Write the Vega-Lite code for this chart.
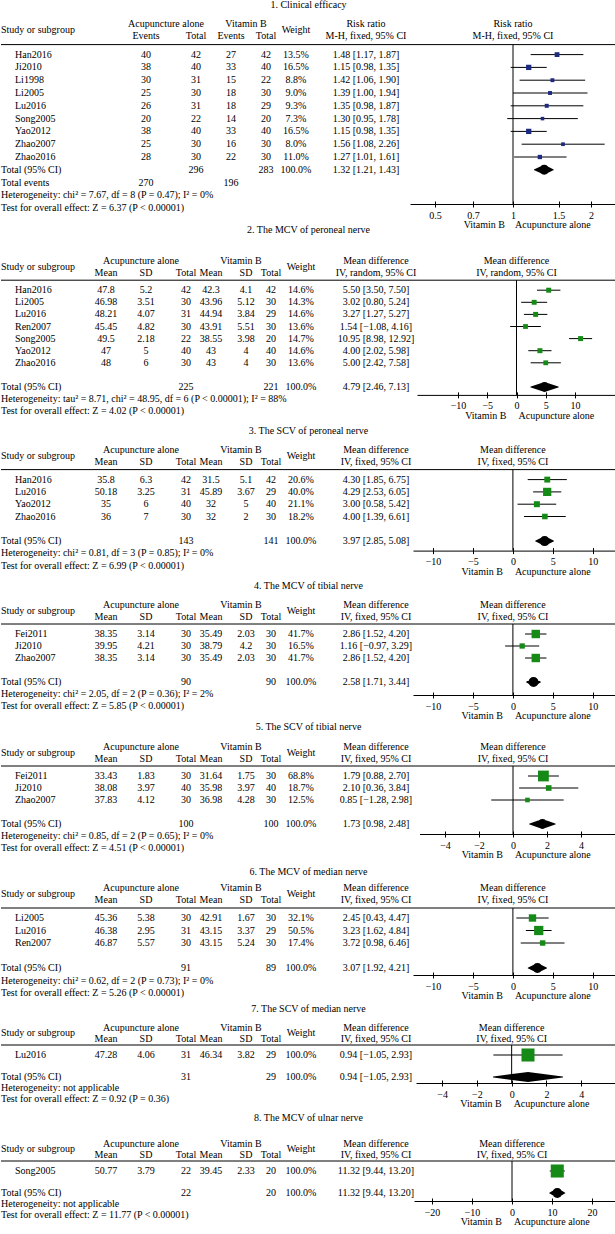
{
"$schema": "https://vega.github.io/schema/vega-lite/v6.json",
"padding": 0,
"bounds": "flush",
"spacing": 40,
"config": {
 "font": "Liberation Serif",
 "view": {"stroke": null},
 "text": {"fontSize": 10, "baseline": "middle", "color": "black"},
 "title": {"fontSize": 10, "fontWeight": "normal", "color": "black"},
 "rule": {"color": "black", "strokeWidth": 1},
 "axis": {"domainColor": "black", "tickColor": "black", "labelColor": "black", "labelFontSize": 10, "tickSize": 3, "labelPadding": 3, "grid": false, "domainWidth": 1, "tickWidth": 1}
},
"datasets": {
 "hRR": [
  {"r":"H1","c":"acu","t":"Acupuncture alone"},{"r":"H1","c":"vit","t":"Vitamin B"},{"r":"H1","c":"ci","t":"Risk ratio"},{"r":"H1","c":"f","t":"Risk ratio"},
  {"r":"H2","c":"e1","t":"Events"},{"r":"H2","c":"t1","t":"Total"},{"r":"H2","c":"e2","t":"Events"},{"r":"H2","c":"t2","t":"Total"},{"r":"H2","c":"ci","t":"M-H, fixed, 95% CI"},{"r":"H2","c":"f","t":"M-H, fixed, 95% CI"}],
 "hMDr": [
  {"r":"H1","c":"acu","t":"Acupuncture alone"},{"r":"H1","c":"vit","t":"Vitamin B"},{"r":"H1","c":"ci","t":"Mean difference"},{"r":"H1","c":"f","t":"Mean difference"},
  {"r":"H2","c":"m1","t":"Mean"},{"r":"H2","c":"sd1","t":"SD"},{"r":"H2","c":"n1","t":"Total"},{"r":"H2","c":"m2","t":"Mean"},{"r":"H2","c":"sd2","t":"SD"},{"r":"H2","c":"n2","t":"Total"},{"r":"H2","c":"ci","t":"IV, random, 95% CI"},{"r":"H2","c":"f","t":"IV, random, 95% CI"}],
 "hMDf": [
  {"r":"H1","c":"acu","t":"Acupuncture alone"},{"r":"H1","c":"vit","t":"Vitamin B"},{"r":"H1","c":"ci","t":"Mean difference"},{"r":"H1","c":"f","t":"Mean difference"},
  {"r":"H2","c":"m1","t":"Mean"},{"r":"H2","c":"sd1","t":"SD"},{"r":"H2","c":"n1","t":"Total"},{"r":"H2","c":"m2","t":"Mean"},{"r":"H2","c":"sd2","t":"SD"},{"r":"H2","c":"n2","t":"Total"},{"r":"H2","c":"ci","t":"IV, fixed, 95% CI"},{"r":"H2","c":"f","t":"IV, fixed, 95% CI"}],
 "p1": [
  {"r":"Han2016","e1":"40","t1":"42","e2":"27","t2":"42","w":"13.5%","ci":"1.48 [1.17, 1.87]","wt":13.5,"est":1.48,"lo":1.17,"hi":1.87},
  {"r":"Ji2010","e1":"38","t1":"40","e2":"33","t2":"40","w":"16.5%","ci":"1.15 [0.98, 1.35]","wt":16.5,"est":1.15,"lo":0.98,"hi":1.35},
  {"r":"Li1998","e1":"30","t1":"31","e2":"15","t2":"22","w":"8.8%","ci":"1.42 [1.06, 1.90]","wt":8.8,"est":1.42,"lo":1.06,"hi":1.9},
  {"r":"Li2005","e1":"25","t1":"30","e2":"18","t2":"30","w":"9.0%","ci":"1.39 [1.00, 1.94]","wt":9.0,"est":1.39,"lo":1.0,"hi":1.94},
  {"r":"Lu2016","e1":"26","t1":"31","e2":"18","t2":"29","w":"9.3%","ci":"1.35 [0.98, 1.87]","wt":9.3,"est":1.35,"lo":0.98,"hi":1.87},
  {"r":"Song2005","e1":"20","t1":"22","e2":"14","t2":"20","w":"7.3%","ci":"1.30 [0.95, 1.78]","wt":7.3,"est":1.3,"lo":0.95,"hi":1.78},
  {"r":"Yao2012","e1":"38","t1":"40","e2":"33","t2":"40","w":"16.5%","ci":"1.15 [0.98, 1.35]","wt":16.5,"est":1.15,"lo":0.98,"hi":1.35},
  {"r":"Zhao2007","e1":"25","t1":"30","e2":"16","t2":"30","w":"8.0%","ci":"1.56 [1.08, 2.26]","wt":8.0,"est":1.56,"lo":1.08,"hi":2.26},
  {"r":"Zhao2016","e1":"28","t1":"30","e2":"22","t2":"30","w":"11.0%","ci":"1.27 [1.01, 1.61]","wt":11.0,"est":1.27,"lo":1.01,"hi":1.61},
  {"r":"Total","nm":"Total (95% CI)","t1":"296","t2":"283","w":"100.0%","ci":"1.32 [1.21, 1.43]","est":1.32,"lo":1.21,"hi":1.43},
  {"r":"Events","nm":"Total events","e1":"270","e2":"196"},
  {"r":"Het","nm":"Heterogeneity: chi² = 7.67, df = 8 (P = 0.47); I² = 0%"},
  {"r":"Test","nm":"Test for overall effect: Z = 6.37 (P < 0.00001)"}],
 "p2": [
  {"r":"Han2016","m1":"47.8","sd1":"5.2","n1":"42","m2":"42.3","sd2":"4.1","n2":"42","w":"14.6%","ci":"5.50 [3.50, 7.50]","wt":14.6,"est":5.5,"lo":3.5,"hi":7.5},
  {"r":"Li2005","m1":"46.98","sd1":"3.51","n1":"30","m2":"43.96","sd2":"5.12","n2":"30","w":"14.3%","ci":"3.02 [0.80, 5.24]","wt":14.3,"est":3.02,"lo":0.8,"hi":5.24},
  {"r":"Lu2016","m1":"48.21","sd1":"4.07","n1":"31","m2":"44.94","sd2":"3.84","n2":"29","w":"14.6%","ci":"3.27 [1.27, 5.27]","wt":14.6,"est":3.27,"lo":1.27,"hi":5.27},
  {"r":"Ren2007","m1":"45.45","sd1":"4.82","n1":"30","m2":"43.91","sd2":"5.51","n2":"30","w":"13.6%","ci":"1.54 [−1.08, 4.16]","wt":13.6,"est":1.54,"lo":-1.08,"hi":4.16},
  {"r":"Song2005","m1":"49.5","sd1":"2.18","n1":"22","m2":"38.55","sd2":"3.98","n2":"20","w":"14.7%","ci":"10.95 [8.98, 12.92]","wt":14.7,"est":10.95,"lo":8.98,"hi":12.92},
  {"r":"Yao2012","m1":"47","sd1":"5","n1":"40","m2":"43","sd2":"4","n2":"40","w":"14.6%","ci":"4.00 [2.02, 5.98]","wt":14.6,"est":4.0,"lo":2.02,"hi":5.98},
  {"r":"Zhao2016","m1":"48","sd1":"6","n1":"30","m2":"43","sd2":"4","n2":"30","w":"13.6%","ci":"5.00 [2.42, 7.58]","wt":13.6,"est":5.0,"lo":2.42,"hi":7.58},
  {"r":"Total","nm":"Total (95% CI)","n1":"225","n2":"221","w":"100.0%","ci":"4.79 [2.46, 7.13]","est":4.79,"lo":2.46,"hi":7.13},
  {"r":"Het","nm":"Heterogeneity: tau² = 8.71, chi² = 48.95, df = 6 (P < 0.00001); I² = 88%"},
  {"r":"Test","nm":"Test for overall effect: Z = 4.02 (P < 0.00001)"}],
 "p3": [
  {"r":"Han2016","m1":"35.8","sd1":"6.3","n1":"42","m2":"31.5","sd2":"5.1","n2":"42","w":"20.6%","ci":"4.30 [1.85, 6.75]","wt":20.6,"est":4.3,"lo":1.85,"hi":6.75},
  {"r":"Lu2016","m1":"50.18","sd1":"3.25","n1":"31","m2":"45.89","sd2":"3.67","n2":"29","w":"40.0%","ci":"4.29 [2.53, 6.05]","wt":40.0,"est":4.29,"lo":2.53,"hi":6.05},
  {"r":"Yao2012","m1":"35","sd1":"6","n1":"40","m2":"32","sd2":"5","n2":"40","w":"21.1%","ci":"3.00 [0.58, 5.42]","wt":21.1,"est":3.0,"lo":0.58,"hi":5.42},
  {"r":"Zhao2016","m1":"36","sd1":"7","n1":"30","m2":"32","sd2":"2","n2":"30","w":"18.2%","ci":"4.00 [1.39, 6.61]","wt":18.2,"est":4.0,"lo":1.39,"hi":6.61},
  {"r":"Total","nm":"Total (95% CI)","n1":"143","n2":"141","w":"100.0%","ci":"3.97 [2.85, 5.08]","est":3.97,"lo":2.85,"hi":5.08},
  {"r":"Het","nm":"Heterogeneity: chi² = 0.81, df = 3 (P = 0.85); I² = 0%"},
  {"r":"Test","nm":"Test for overall effect: Z = 6.99 (P < 0.00001)"}],
 "p4": [
  {"r":"Fei2011","m1":"38.35","sd1":"3.14","n1":"30","m2":"35.49","sd2":"2.03","n2":"30","w":"41.7%","ci":"2.86 [1.52, 4.20]","wt":41.7,"est":2.86,"lo":1.52,"hi":4.2},
  {"r":"Ji2010","m1":"39.95","sd1":"4.21","n1":"30","m2":"38.79","sd2":"4.2","n2":"30","w":"16.5%","ci":"1.16 [−0.97, 3.29]","wt":16.5,"est":1.16,"lo":-0.97,"hi":3.29},
  {"r":"Zhao2007","m1":"38.35","sd1":"3.14","n1":"30","m2":"35.49","sd2":"2.03","n2":"30","w":"41.7%","ci":"2.86 [1.52, 4.20]","wt":41.7,"est":2.86,"lo":1.52,"hi":4.2},
  {"r":"Total","nm":"Total (95% CI)","n1":"90","n2":"90","w":"100.0%","ci":"2.58 [1.71, 3.44]","est":2.58,"lo":1.71,"hi":3.44},
  {"r":"Het","nm":"Heterogeneity: chi² = 2.05, df = 2 (P = 0.36); I² = 2%"},
  {"r":"Test","nm":"Test for overall effect: Z = 5.85 (P < 0.00001)"}],
 "p5": [
  {"r":"Fei2011","m1":"33.43","sd1":"1.83","n1":"30","m2":"31.64","sd2":"1.75","n2":"30","w":"68.8%","ci":"1.79 [0.88, 2.70]","wt":68.8,"est":1.79,"lo":0.88,"hi":2.7},
  {"r":"Ji2010","m1":"38.08","sd1":"3.97","n1":"40","m2":"35.98","sd2":"3.97","n2":"40","w":"18.7%","ci":"2.10 [0.36, 3.84]","wt":18.7,"est":2.1,"lo":0.36,"hi":3.84},
  {"r":"Zhao2007","m1":"37.83","sd1":"4.12","n1":"30","m2":"36.98","sd2":"4.28","n2":"30","w":"12.5%","ci":"0.85 [−1.28, 2.98]","wt":12.5,"est":0.85,"lo":-1.28,"hi":2.98},
  {"r":"Total","nm":"Total (95% CI)","n1":"100","n2":"100","w":"100.0%","ci":"1.73 [0.98, 2.48]","est":1.73,"lo":0.98,"hi":2.48},
  {"r":"Het","nm":"Heterogeneity: chi² = 0.85, df = 2 (P = 0.65); I² = 0%"},
  {"r":"Test","nm":"Test for overall effect: Z = 4.51 (P < 0.00001)"}],
 "p6": [
  {"r":"Li2005","m1":"45.36","sd1":"5.38","n1":"30","m2":"42.91","sd2":"1.67","n2":"30","w":"32.1%","ci":"2.45 [0.43, 4.47]","wt":32.1,"est":2.45,"lo":0.43,"hi":4.47},
  {"r":"Lu2016","m1":"46.38","sd1":"2.95","n1":"31","m2":"43.15","sd2":"3.37","n2":"29","w":"50.5%","ci":"3.23 [1.62, 4.84]","wt":50.5,"est":3.23,"lo":1.62,"hi":4.84},
  {"r":"Ren2007","m1":"46.87","sd1":"5.57","n1":"30","m2":"43.15","sd2":"5.24","n2":"30","w":"17.4%","ci":"3.72 [0.98, 6.46]","wt":17.4,"est":3.72,"lo":0.98,"hi":6.46},
  {"r":"Total","nm":"Total (95% CI)","n1":"91","n2":"89","w":"100.0%","ci":"3.07 [1.92, 4.21]","est":3.07,"lo":1.92,"hi":4.21},
  {"r":"Het","nm":"Heterogeneity: chi² = 0.62, df = 2 (P = 0.73); I² = 0%"},
  {"r":"Test","nm":"Test for overall effect: Z = 5.26 (P < 0.00001)"}],
 "p7": [
  {"r":"Lu2016","m1":"47.28","sd1":"4.06","n1":"31","m2":"46.34","sd2":"3.82","n2":"29","w":"100.0%","ci":"0.94 [−1.05, 2.93]","wt":100.0,"est":0.94,"lo":-1.05,"hi":2.93},
  {"r":"Total","nm":"Total (95% CI)","n1":"31","n2":"29","w":"100.0%","ci":"0.94 [−1.05, 2.93]","est":0.94,"lo":-1.05,"hi":2.93},
  {"r":"Het","nm":"Heterogeneity: not applicable"},
  {"r":"Test","nm":"Test for overall effect: Z = 0.92 (P = 0.36)"}],
 "p8": [
  {"r":"Song2005","m1":"50.77","sd1":"3.79","n1":"22","m2":"39.45","sd2":"2.33","n2":"20","w":"100.0%","ci":"11.32 [9.44, 13.20]","wt":100.0,"est":11.32,"lo":9.44,"hi":13.2},
  {"r":"Total","nm":"Total (95% CI)","n1":"22","n2":"20","w":"100.0%","ci":"11.32 [9.44, 13.20]","est":11.32,"lo":9.44,"hi":13.2},
  {"r":"Het","nm":"Heterogeneity: not applicable"},
  {"r":"Test","nm":"Test for overall effect: Z = 11.77 (P < 0.00001)"}]
},
"resolve": {"scale": {"x": "independent", "y": "independent", "size": "independent"}},
"vconcat": [
 {
  "title": {"text": "1. Clinical efficacy", "offset": -1.5, "anchor": "middle", "frame": "group", "baseline": "bottom"},
  "width": 615, "height": 196.1,
  "data": {"name": "p1"},
  "encoding": {"y": {"field": "r", "type": "nominal", "axis": null, "scale": {"type": "point", "padding": 0, "range": [0, 179.2], "domain": ["H1","H2","Han2016","Ji2010","Li1998","Li2005","Lu2016","Song2005","Yao2012","Zhao2007","Zhao2016","Total","Events","Het","Test"]}}},
  "resolve": {"scale": {"x": "independent"}, "axis": {"x": "independent"}},
  "layer": [
   {"layer": [
    {"data": {"name": "hRR"}, "transform": [{"filter": "datum.c != 'f'"}], "mark": {"type": "text", "dy": -5.5}, "encoding": {"x": {"field": "c", "type": "nominal", "axis": null}, "text": {"field": "t"}}},
    {"data": {"values": [{}]}, "mark": {"type": "text", "text": "Study or subgroup", "align": "left", "dy": -11.5}, "encoding": {"x": {"datum": "nm", "type": "nominal", "axis": null}, "y": {"datum": "H2", "type": "nominal", "axis": null}}},
    {"data": {"values": [{}]}, "mark": {"type": "text", "text": "Weight", "dy": -11.5}, "encoding": {"x": {"datum": "w", "type": "nominal", "axis": null}, "y": {"datum": "H2", "type": "nominal", "axis": null}}},
    {"transform": [{"filter": "isValid(datum.wt)"}], "mark": {"type": "text", "align": "left", "dx": 14}, "encoding": {"x": {"datum": "nm", "type": "nominal", "axis": null}, "text": {"field": "r"}}},
    {"transform": [{"filter": "isValid(datum.nm)"}], "mark": {"type": "text", "align": "left"}, "encoding": {"x": {"datum": "nm", "type": "nominal", "axis": null}, "text": {"field": "nm"}}},
    {"transform": [{"fold": ["e1","t1","e2","t2","w","ci"], "as": ["k","v"]}, {"filter": "isValid(datum.v)"}], "mark": {"type": "text"}, "encoding": {"x": {"field": "k", "type": "nominal", "axis": null, "scale": {"type": "point", "padding": 0, "range": [0, 365], "domain": ["nm","f1","f2","f3","f4","f5","f6","f7","f8","f9","f10","f11","f12","f13","f14","f15","f16","f17","f18","f19","f20","f21","f22","f23","f24","f25","f26","f27","f28","e1","f30","f31","f32","acu","f34","f35","f36","f37","f38","t1","f40","f41","f42","f43","f44","f45","e2","f47","f48","vit","f50","f51","f52","t2","f54","f55","f56","f57","f58","w","f60","f61","f62","f63","f64","f65","f66","f67","f68","f69","f70","f71","f72","ci"]}}, "text": {"field": "v"}}},
    {"data": {"values": [{}]}, "mark": {"type": "rule", "yOffset": 2.8}, "encoding": {"y": {"datum": "H2", "type": "nominal", "axis": null}}}
   ]},
   {"resolve": {"axis": {"x": "independent"}}, "layer": [
    {"data": {"values": [{}]}, "mark": {"type": "rule", "yOffset": 2.8, "y2Offset": -4.2}, "encoding": {"x": {"datum": 1, "type": "quantitative", "axis": null}, "y": {"datum": "H2", "type": "nominal", "axis": null}, "y2": {"datum": "Test"}}},
    {"transform": [{"filter": "isValid(datum.wt)"}], "mark": {"type": "rule"}, "encoding": {"x": {"field": "lo", "type": "quantitative", "scale": {"type": "log", "domain": [0.4, 2.5], "range": [409, 615], "nice": false}, "axis": {"orient": "bottom", "values": [0.5, 0.7, 1, 1.5, 2], "format": "~g", "title": null, "offset": -21.1}}, "x2": {"field": "hi"}}},
    {"transform": [{"filter": "isValid(datum.wt)"}], "mark": {"type": "square", "filled": true, "opacity": 1, "color": "#1c2a80"}, "encoding": {"x": {"field": "est", "type": "quantitative", "axis": {"orient": "bottom", "values": [0.5, 0.7, 1, 1.5, 2], "labels": false, "domain": false, "tickSize": -3, "title": null, "offset": -21.1}}, "size": {"field": "wt", "type": "quantitative", "legend": null, "scale": {"type": "linear", "domain": [0, 100], "range": [0, 170]}}}},
    {"transform": [{"filter": "datum.r == 'Total'"}, {"fold": ["lo","est","hi"], "as": ["dk","dv"]}], "mark": {"type": "trail", "color": "black"}, "encoding": {"x": {"field": "dv", "type": "quantitative", "axis": null}, "size": {"condition": {"test": "datum.dk == 'est'", "value": 10}, "value": 0}}},
    {"data": {"name": "hRR"}, "transform": [{"filter": "datum.c == 'f'"}], "mark": {"type": "text", "dy": -5.5}, "encoding": {"x": {"datum": 1, "type": "quantitative", "axis": null}, "text": {"field": "t"}}},
    {"data": {"values": [{}]}, "mark": {"type": "text", "text": "Vitamin B", "align": "right", "dx": -8, "dy": 16.8}, "encoding": {"x": {"datum": 1, "type": "quantitative", "axis": null}, "y": {"datum": "Test", "type": "nominal", "axis": null}}},
    {"data": {"values": [{}]}, "mark": {"type": "text", "text": "Acupuncture alone", "align": "left", "dx": 2, "dy": 16.8}, "encoding": {"x": {"datum": 1, "type": "quantitative", "axis": null}, "y": {"datum": "Test", "type": "nominal", "axis": null}}}
   ]}
  ]
 },
 {
  "title": {"text": "2. The MCV of peroneal nerve", "offset": 10.5, "anchor": "middle", "frame": "group", "baseline": "bottom"},
  "width": 615, "height": 148.3,
  "data": {"name": "p2"},
  "encoding": {"y": {"field": "r", "type": "nominal", "axis": null, "scale": {"type": "point", "padding": 0, "range": [0, 145.2], "domain": ["H1","H2","Han2016","Li2005","Lu2016","Ren2007","Song2005","Yao2012","Zhao2016","gap","Total","Het","Test"]}}},
  "resolve": {"scale": {"x": "independent"}, "axis": {"x": "independent"}},
  "layer": [
   {"layer": [
    {"data": {"name": "hMDr"}, "transform": [{"filter": "datum.c != 'f'"}], "mark": {"type": "text", "dy": -5.5}, "encoding": {"x": {"field": "c", "type": "nominal", "axis": null}, "text": {"field": "t"}}},
    {"data": {"values": [{}]}, "mark": {"type": "text", "text": "Study or subgroup", "align": "left", "dy": -11.5}, "encoding": {"x": {"datum": "nm", "type": "nominal", "axis": null}, "y": {"datum": "H2", "type": "nominal", "axis": null}}},
    {"data": {"values": [{}]}, "mark": {"type": "text", "text": "Weight", "dy": -11.5}, "encoding": {"x": {"datum": "w", "type": "nominal", "axis": null}, "y": {"datum": "H2", "type": "nominal", "axis": null}}},
    {"transform": [{"filter": "isValid(datum.wt)"}], "mark": {"type": "text", "align": "left", "dx": 14}, "encoding": {"x": {"datum": "nm", "type": "nominal", "axis": null}, "text": {"field": "r"}}},
    {"transform": [{"filter": "isValid(datum.nm)"}], "mark": {"type": "text", "align": "left"}, "encoding": {"x": {"datum": "nm", "type": "nominal", "axis": null}, "text": {"field": "nm"}}},
    {"transform": [{"fold": ["m1","sd1","n1","m2","sd2","n2","w","ci"], "as": ["k","v"]}, {"filter": "isValid(datum.v)"}], "mark": {"type": "text"}, "encoding": {"x": {"field": "k", "type": "nominal", "axis": null, "scale": {"type": "point", "padding": 0, "range": [0, 375], "domain": ["nm","f1","f2","f3","f4","f5","f6","f7","f8","f9","f10","f11","f12","f13","f14","f15","f16","f17","f18","f19","f20","m1","f22","f23","f24","f25","f26","f27","acu","sd1","f30","f31","f32","f33","f34","f35","f36","n1","f38","f39","f40","f41","m2","f43","f44","f45","f46","f47","vit","sd2","f50","f51","f52","f53","n2","f55","f56","f57","f58","f59","w","f61","f62","f63","f64","f65","f66","f67","f68","f69","f70","f71","f72","f73","f74","ci"]}}, "text": {"field": "v"}}},
    {"data": {"values": [{}]}, "mark": {"type": "rule", "yOffset": 2.1}, "encoding": {"y": {"datum": "H2", "type": "nominal", "axis": null}}}
   ]},
   {"resolve": {"axis": {"x": "independent"}}, "layer": [
    {"data": {"values": [{}]}, "mark": {"type": "rule", "yOffset": 2.1, "y2Offset": -16.3}, "encoding": {"x": {"datum": 0, "type": "quantitative", "axis": null}, "y": {"datum": "H2", "type": "nominal", "axis": null}, "y2": {"datum": "Test"}}},
    {"transform": [{"filter": "isValid(datum.wt)"}], "mark": {"type": "rule"}, "encoding": {"x": {"field": "lo", "type": "quantitative", "scale": {"domain": [-17, 17], "range": [416, 615], "nice": false, "zero": false}, "axis": {"orient": "bottom", "values": [-10, -5, 0, 5, 10], "title": null, "offset": -19.4}}, "x2": {"field": "hi"}}},
    {"transform": [{"filter": "isValid(datum.wt)"}], "mark": {"type": "square", "filled": true, "opacity": 1, "color": "#168a16"}, "encoding": {"x": {"field": "est", "type": "quantitative", "axis": {"orient": "bottom", "values": [-10, -5, 0, 5, 10], "labels": false, "domain": false, "tickSize": -3, "title": null, "offset": -19.4}}, "size": {"field": "wt", "type": "quantitative", "legend": null, "scale": {"type": "linear", "domain": [0, 100], "range": [0, 170]}}}},
    {"transform": [{"filter": "datum.r == 'Total'"}, {"fold": ["lo","est","hi"], "as": ["dk","dv"]}], "mark": {"type": "trail", "color": "black"}, "encoding": {"x": {"field": "dv", "type": "quantitative", "axis": null}, "size": {"condition": {"test": "datum.dk == 'est'", "value": 10}, "value": 0}}},
    {"data": {"name": "hMDr"}, "transform": [{"filter": "datum.c == 'f'"}], "mark": {"type": "text", "dy": -5.5}, "encoding": {"x": {"datum": 0, "type": "quantitative", "axis": null}, "text": {"field": "t"}}},
    {"data": {"values": [{}]}, "mark": {"type": "text", "text": "Vitamin B", "align": "right", "dx": -10, "dy": 4.7}, "encoding": {"x": {"datum": 0, "type": "quantitative", "axis": null}, "y": {"datum": "Test", "type": "nominal", "axis": null}}},
    {"data": {"values": [{}]}, "mark": {"type": "text", "text": "Acupuncture alone", "align": "left", "dx": 2, "dy": 4.7}, "encoding": {"x": {"datum": 0, "type": "quantitative", "axis": null}, "y": {"datum": "Test", "type": "nominal", "axis": null}}}
   ]}
  ]
 },
 {
  "title": {"text": "3. The SCV of peroneal nerve", "offset": -1, "anchor": "middle", "frame": "group", "baseline": "bottom"},
  "width": 615, "height": 114.6,
  "data": {"name": "p3"},
  "encoding": {"y": {"field": "r", "type": "nominal", "axis": null, "scale": {"type": "point", "padding": 0, "range": [0, 110.7], "domain": ["H1","H2","Han2016","Lu2016","Yao2012","Zhao2016","gap","Total","Het","Test"]}}},
  "resolve": {"scale": {"x": "independent"}, "axis": {"x": "independent"}},
  "layer": [
   {"layer": [
    {"data": {"name": "hMDf"}, "transform": [{"filter": "datum.c != 'f'"}], "mark": {"type": "text", "dy": -5.5}, "encoding": {"x": {"field": "c", "type": "nominal", "axis": null}, "text": {"field": "t"}}},
    {"data": {"values": [{}]}, "mark": {"type": "text", "text": "Study or subgroup", "align": "left", "dy": -11.5}, "encoding": {"x": {"datum": "nm", "type": "nominal", "axis": null}, "y": {"datum": "H2", "type": "nominal", "axis": null}}},
    {"data": {"values": [{}]}, "mark": {"type": "text", "text": "Weight", "dy": -11.5}, "encoding": {"x": {"datum": "w", "type": "nominal", "axis": null}, "y": {"datum": "H2", "type": "nominal", "axis": null}}},
    {"transform": [{"filter": "isValid(datum.wt)"}], "mark": {"type": "text", "align": "left", "dx": 14}, "encoding": {"x": {"datum": "nm", "type": "nominal", "axis": null}, "text": {"field": "r"}}},
    {"transform": [{"filter": "isValid(datum.nm)"}], "mark": {"type": "text", "align": "left"}, "encoding": {"x": {"datum": "nm", "type": "nominal", "axis": null}, "text": {"field": "nm"}}},
    {"transform": [{"fold": ["m1","sd1","n1","m2","sd2","n2","w","ci"], "as": ["k","v"]}, {"filter": "isValid(datum.v)"}], "mark": {"type": "text"}, "encoding": {"x": {"field": "k", "type": "nominal", "axis": null, "scale": {"type": "point", "padding": 0, "range": [0, 375], "domain": ["nm","f1","f2","f3","f4","f5","f6","f7","f8","f9","f10","f11","f12","f13","f14","f15","f16","f17","f18","f19","f20","m1","f22","f23","f24","f25","f26","f27","acu","sd1","f30","f31","f32","f33","f34","f35","f36","n1","f38","f39","f40","f41","m2","f43","f44","f45","f46","f47","vit","sd2","f50","f51","f52","f53","n2","f55","f56","f57","f58","f59","w","f61","f62","f63","f64","f65","f66","f67","f68","f69","f70","f71","f72","f73","f74","ci"]}}, "text": {"field": "v"}}},
    {"data": {"values": [{}]}, "mark": {"type": "rule", "yOffset": 2.3}, "encoding": {"y": {"datum": "H2", "type": "nominal", "axis": null}}}
   ]},
   {"resolve": {"axis": {"x": "independent"}}, "layer": [
    {"data": {"values": [{}]}, "mark": {"type": "rule", "yOffset": 2.3, "y2Offset": -15.1}, "encoding": {"x": {"datum": 0, "type": "quantitative", "axis": null}, "y": {"datum": "H2", "type": "nominal", "axis": null}, "y2": {"datum": "Test"}}},
    {"transform": [{"filter": "isValid(datum.wt)"}], "mark": {"type": "rule"}, "encoding": {"x": {"field": "lo", "type": "quantitative", "scale": {"domain": [-12.5, 12.9], "range": [412, 615], "nice": false, "zero": false}, "axis": {"orient": "bottom", "values": [-10, -5, 0, 5, 10], "title": null, "offset": -19}}, "x2": {"field": "hi"}}},
    {"transform": [{"filter": "isValid(datum.wt)"}], "mark": {"type": "square", "filled": true, "opacity": 1, "color": "#168a16"}, "encoding": {"x": {"field": "est", "type": "quantitative", "axis": {"orient": "bottom", "values": [-10, -5, 0, 5, 10], "labels": false, "domain": false, "tickSize": -3, "title": null, "offset": -19}}, "size": {"field": "wt", "type": "quantitative", "legend": null, "scale": {"type": "linear", "domain": [0, 100], "range": [0, 170]}}}},
    {"transform": [{"filter": "datum.r == 'Total'"}, {"fold": ["lo","est","hi"], "as": ["dk","dv"]}], "mark": {"type": "trail", "color": "black"}, "encoding": {"x": {"field": "dv", "type": "quantitative", "axis": null}, "size": {"condition": {"test": "datum.dk == 'est'", "value": 10}, "value": 0}}},
    {"data": {"name": "hMDf"}, "transform": [{"filter": "datum.c == 'f'"}], "mark": {"type": "text", "dy": -5.5}, "encoding": {"x": {"datum": 0, "type": "quantitative", "axis": null}, "text": {"field": "t"}}},
    {"data": {"values": [{}]}, "mark": {"type": "text", "text": "Vitamin B", "align": "right", "dx": -10, "dy": 5.9}, "encoding": {"x": {"datum": 0, "type": "quantitative", "axis": null}, "y": {"datum": "Test", "type": "nominal", "axis": null}}},
    {"data": {"values": [{}]}, "mark": {"type": "text", "text": "Acupuncture alone", "align": "left", "dx": 2, "dy": 5.9}, "encoding": {"x": {"datum": 0, "type": "quantitative", "axis": null}, "y": {"datum": "Test", "type": "nominal", "axis": null}}}
   ]}
  ]
 },
 {
  "title": {"text": "4. The MCV of tibial nerve", "offset": -1.5, "anchor": "middle", "frame": "group", "baseline": "bottom"},
  "width": 615, "height": 102,
  "data": {"name": "p4"},
  "encoding": {"y": {"field": "r", "type": "nominal", "axis": null, "scale": {"type": "point", "padding": 0, "range": [0, 96], "domain": ["H1","H2","Fei2011","Ji2010","Zhao2007","gap","Total","Het","Test"]}}},
  "resolve": {"scale": {"x": "independent"}, "axis": {"x": "independent"}},
  "layer": [
   {"layer": [
    {"data": {"name": "hMDf"}, "transform": [{"filter": "datum.c != 'f'"}], "mark": {"type": "text", "dy": -5.5}, "encoding": {"x": {"field": "c", "type": "nominal", "axis": null}, "text": {"field": "t"}}},
    {"data": {"values": [{}]}, "mark": {"type": "text", "text": "Study or subgroup", "align": "left", "dy": -11.5}, "encoding": {"x": {"datum": "nm", "type": "nominal", "axis": null}, "y": {"datum": "H2", "type": "nominal", "axis": null}}},
    {"data": {"values": [{}]}, "mark": {"type": "text", "text": "Weight", "dy": -11.5}, "encoding": {"x": {"datum": "w", "type": "nominal", "axis": null}, "y": {"datum": "H2", "type": "nominal", "axis": null}}},
    {"transform": [{"filter": "isValid(datum.wt)"}], "mark": {"type": "text", "align": "left", "dx": 14}, "encoding": {"x": {"datum": "nm", "type": "nominal", "axis": null}, "text": {"field": "r"}}},
    {"transform": [{"filter": "isValid(datum.nm)"}], "mark": {"type": "text", "align": "left"}, "encoding": {"x": {"datum": "nm", "type": "nominal", "axis": null}, "text": {"field": "nm"}}},
    {"transform": [{"fold": ["m1","sd1","n1","m2","sd2","n2","w","ci"], "as": ["k","v"]}, {"filter": "isValid(datum.v)"}], "mark": {"type": "text"}, "encoding": {"x": {"field": "k", "type": "nominal", "axis": null, "scale": {"type": "point", "padding": 0, "range": [0, 375], "domain": ["nm","f1","f2","f3","f4","f5","f6","f7","f8","f9","f10","f11","f12","f13","f14","f15","f16","f17","f18","f19","f20","m1","f22","f23","f24","f25","f26","f27","acu","sd1","f30","f31","f32","f33","f34","f35","f36","n1","f38","f39","f40","f41","m2","f43","f44","f45","f46","f47","vit","sd2","f50","f51","f52","f53","n2","f55","f56","f57","f58","f59","w","f61","f62","f63","f64","f65","f66","f67","f68","f69","f70","f71","f72","f73","f74","ci"]}}, "text": {"field": "v"}}},
    {"data": {"values": [{}]}, "mark": {"type": "rule", "yOffset": 2}, "encoding": {"y": {"datum": "H2", "type": "nominal", "axis": null}}}
   ]},
   {"resolve": {"axis": {"x": "independent"}}, "layer": [
    {"data": {"values": [{}]}, "mark": {"type": "rule", "yOffset": 2, "y2Offset": -11}, "encoding": {"x": {"datum": 0, "type": "quantitative", "axis": null}, "y": {"datum": "H2", "type": "nominal", "axis": null}, "y2": {"datum": "Test"}}},
    {"transform": [{"filter": "isValid(datum.wt)"}], "mark": {"type": "rule"}, "encoding": {"x": {"field": "lo", "type": "quantitative", "scale": {"domain": [-12.5, 12.9], "range": [412, 615], "nice": false, "zero": false}, "axis": {"orient": "bottom", "values": [-10, -5, 0, 5, 10], "title": null, "offset": -17}}, "x2": {"field": "hi"}}},
    {"transform": [{"filter": "isValid(datum.wt)"}], "mark": {"type": "square", "filled": true, "opacity": 1, "color": "#168a16"}, "encoding": {"x": {"field": "est", "type": "quantitative", "axis": {"orient": "bottom", "values": [-10, -5, 0, 5, 10], "labels": false, "domain": false, "tickSize": -3, "title": null, "offset": -17}}, "size": {"field": "wt", "type": "quantitative", "legend": null, "scale": {"type": "linear", "domain": [0, 100], "range": [0, 170]}}}},
    {"transform": [{"filter": "datum.r == 'Total'"}, {"fold": ["lo","est","hi"], "as": ["dk","dv"]}], "mark": {"type": "trail", "color": "black"}, "encoding": {"x": {"field": "dv", "type": "quantitative", "axis": null}, "size": {"condition": {"test": "datum.dk == 'est'", "value": 10}, "value": 0}}},
    {"data": {"name": "hMDf"}, "transform": [{"filter": "datum.c == 'f'"}], "mark": {"type": "text", "dy": -5.5}, "encoding": {"x": {"datum": 0, "type": "quantitative", "axis": null}, "text": {"field": "t"}}},
    {"data": {"values": [{}]}, "mark": {"type": "text", "text": "Vitamin B", "align": "right", "dx": -10, "dy": 10}, "encoding": {"x": {"datum": 0, "type": "quantitative", "axis": null}, "y": {"datum": "Test", "type": "nominal", "axis": null}}},
    {"data": {"values": [{}]}, "mark": {"type": "text", "text": "Acupuncture alone", "align": "left", "dx": 2, "dy": 10}, "encoding": {"x": {"datum": 0, "type": "quantitative", "axis": null}, "y": {"datum": "Test", "type": "nominal", "axis": null}}}
   ]}
  ]
 },
 {
  "title": {"text": "5. The SCV of tibial nerve", "offset": -0.5, "anchor": "middle", "frame": "group", "baseline": "bottom"},
  "width": 615, "height": 101,
  "data": {"name": "p5"},
  "encoding": {"y": {"field": "r", "type": "nominal", "axis": null, "scale": {"type": "point", "padding": 0, "range": [0, 96], "domain": ["H1","H2","Fei2011","Ji2010","Zhao2007","gap","Total","Het","Test"]}}},
  "resolve": {"scale": {"x": "independent"}, "axis": {"x": "independent"}},
  "layer": [
   {"layer": [
    {"data": {"name": "hMDf"}, "transform": [{"filter": "datum.c != 'f'"}], "mark": {"type": "text", "dy": -5.5}, "encoding": {"x": {"field": "c", "type": "nominal", "axis": null}, "text": {"field": "t"}}},
    {"data": {"values": [{}]}, "mark": {"type": "text", "text": "Study or subgroup", "align": "left", "dy": -11.5}, "encoding": {"x": {"datum": "nm", "type": "nominal", "axis": null}, "y": {"datum": "H2", "type": "nominal", "axis": null}}},
    {"data": {"values": [{}]}, "mark": {"type": "text", "text": "Weight", "dy": -11.5}, "encoding": {"x": {"datum": "w", "type": "nominal", "axis": null}, "y": {"datum": "H2", "type": "nominal", "axis": null}}},
    {"transform": [{"filter": "isValid(datum.wt)"}], "mark": {"type": "text", "align": "left", "dx": 14}, "encoding": {"x": {"datum": "nm", "type": "nominal", "axis": null}, "text": {"field": "r"}}},
    {"transform": [{"filter": "isValid(datum.nm)"}], "mark": {"type": "text", "align": "left"}, "encoding": {"x": {"datum": "nm", "type": "nominal", "axis": null}, "text": {"field": "nm"}}},
    {"transform": [{"fold": ["m1","sd1","n1","m2","sd2","n2","w","ci"], "as": ["k","v"]}, {"filter": "isValid(datum.v)"}], "mark": {"type": "text"}, "encoding": {"x": {"field": "k", "type": "nominal", "axis": null, "scale": {"type": "point", "padding": 0, "range": [0, 375], "domain": ["nm","f1","f2","f3","f4","f5","f6","f7","f8","f9","f10","f11","f12","f13","f14","f15","f16","f17","f18","f19","f20","m1","f22","f23","f24","f25","f26","f27","acu","sd1","f30","f31","f32","f33","f34","f35","f36","n1","f38","f39","f40","f41","m2","f43","f44","f45","f46","f47","vit","sd2","f50","f51","f52","f53","n2","f55","f56","f57","f58","f59","w","f61","f62","f63","f64","f65","f66","f67","f68","f69","f70","f71","f72","f73","f74","ci"]}}, "text": {"field": "v"}}},
    {"data": {"values": [{}]}, "mark": {"type": "rule", "yOffset": 2}, "encoding": {"y": {"datum": "H2", "type": "nominal", "axis": null}}}
   ]},
   {"resolve": {"axis": {"x": "independent"}}, "layer": [
    {"data": {"values": [{}]}, "mark": {"type": "rule", "yOffset": 2, "y2Offset": -14}, "encoding": {"x": {"datum": 0, "type": "quantitative", "axis": null}, "y": {"datum": "H2", "type": "nominal", "axis": null}, "y2": {"datum": "Test"}}},
    {"transform": [{"filter": "isValid(datum.wt)"}], "mark": {"type": "rule"}, "encoding": {"x": {"field": "lo", "type": "quantitative", "scale": {"domain": [-5.5, 6], "range": [418.5, 614], "nice": false, "zero": false}, "axis": {"orient": "bottom", "values": [-4, -2, 0, 2, 4], "title": null, "offset": -19}}, "x2": {"field": "hi"}}},
    {"transform": [{"filter": "isValid(datum.wt)"}], "mark": {"type": "square", "filled": true, "opacity": 1, "color": "#168a16"}, "encoding": {"x": {"field": "est", "type": "quantitative", "axis": {"orient": "bottom", "values": [-4, -2, 0, 2, 4], "labels": false, "domain": false, "tickSize": -3, "title": null, "offset": -19}}, "size": {"field": "wt", "type": "quantitative", "legend": null, "scale": {"type": "linear", "domain": [0, 100], "range": [0, 170]}}}},
    {"transform": [{"filter": "datum.r == 'Total'"}, {"fold": ["lo","est","hi"], "as": ["dk","dv"]}], "mark": {"type": "trail", "color": "black"}, "encoding": {"x": {"field": "dv", "type": "quantitative", "axis": null}, "size": {"condition": {"test": "datum.dk == 'est'", "value": 10}, "value": 0}}},
    {"data": {"name": "hMDf"}, "transform": [{"filter": "datum.c == 'f'"}], "mark": {"type": "text", "dy": -5.5}, "encoding": {"x": {"datum": 0, "type": "quantitative", "axis": null}, "text": {"field": "t"}}},
    {"data": {"values": [{}]}, "mark": {"type": "text", "text": "Vitamin B", "align": "right", "dx": -10, "dy": 7}, "encoding": {"x": {"datum": 0, "type": "quantitative", "axis": null}, "y": {"datum": "Test", "type": "nominal", "axis": null}}},
    {"data": {"values": [{}]}, "mark": {"type": "text", "text": "Acupuncture alone", "align": "left", "dx": 2, "dy": 7}, "encoding": {"x": {"datum": 0, "type": "quantitative", "axis": null}, "y": {"datum": "Test", "type": "nominal", "axis": null}}}
   ]}
  ]
 },
 {
  "title": {"text": "6. The MCV of median nerve", "offset": -4.5, "anchor": "middle", "frame": "group", "baseline": "bottom"},
  "width": 615, "height": 100,
  "data": {"name": "p6"},
  "encoding": {"y": {"field": "r", "type": "nominal", "axis": null, "scale": {"type": "point", "padding": 0, "range": [0, 100], "domain": ["H1","H2","Li2005","Lu2016","Ren2007","gap","Total","Het","Test"]}}},
  "resolve": {"scale": {"x": "independent"}, "axis": {"x": "independent"}},
  "layer": [
   {"layer": [
    {"data": {"name": "hMDf"}, "transform": [{"filter": "datum.c != 'f'"}], "mark": {"type": "text", "dy": -5.5}, "encoding": {"x": {"field": "c", "type": "nominal", "axis": null}, "text": {"field": "t"}}},
    {"data": {"values": [{}]}, "mark": {"type": "text", "text": "Study or subgroup", "align": "left", "dy": -11.5}, "encoding": {"x": {"datum": "nm", "type": "nominal", "axis": null}, "y": {"datum": "H2", "type": "nominal", "axis": null}}},
    {"data": {"values": [{}]}, "mark": {"type": "text", "text": "Weight", "dy": -11.5}, "encoding": {"x": {"datum": "w", "type": "nominal", "axis": null}, "y": {"datum": "H2", "type": "nominal", "axis": null}}},
    {"transform": [{"filter": "isValid(datum.wt)"}], "mark": {"type": "text", "align": "left", "dx": 14}, "encoding": {"x": {"datum": "nm", "type": "nominal", "axis": null}, "text": {"field": "r"}}},
    {"transform": [{"filter": "isValid(datum.nm)"}], "mark": {"type": "text", "align": "left"}, "encoding": {"x": {"datum": "nm", "type": "nominal", "axis": null}, "text": {"field": "nm"}}},
    {"transform": [{"fold": ["m1","sd1","n1","m2","sd2","n2","w","ci"], "as": ["k","v"]}, {"filter": "isValid(datum.v)"}], "mark": {"type": "text"}, "encoding": {"x": {"field": "k", "type": "nominal", "axis": null, "scale": {"type": "point", "padding": 0, "range": [0, 375], "domain": ["nm","f1","f2","f3","f4","f5","f6","f7","f8","f9","f10","f11","f12","f13","f14","f15","f16","f17","f18","f19","f20","m1","f22","f23","f24","f25","f26","f27","acu","sd1","f30","f31","f32","f33","f34","f35","f36","n1","f38","f39","f40","f41","m2","f43","f44","f45","f46","f47","vit","sd2","f50","f51","f52","f53","n2","f55","f56","f57","f58","f59","w","f61","f62","f63","f64","f65","f66","f67","f68","f69","f70","f71","f72","f73","f74","ci"]}}, "text": {"field": "v"}}},
    {"data": {"values": [{}]}, "mark": {"type": "rule", "yOffset": 2.5}, "encoding": {"y": {"datum": "H2", "type": "nominal", "axis": null}}}
   ]},
   {"resolve": {"axis": {"x": "independent"}}, "layer": [
    {"data": {"values": [{}]}, "mark": {"type": "rule", "yOffset": 2.5, "y2Offset": -18}, "encoding": {"x": {"datum": 0, "type": "quantitative", "axis": null}, "y": {"datum": "H2", "type": "nominal", "axis": null}, "y2": {"datum": "Test"}}},
    {"transform": [{"filter": "isValid(datum.wt)"}], "mark": {"type": "rule"}, "encoding": {"x": {"field": "lo", "type": "quantitative", "scale": {"domain": [-12.5, 12.9], "range": [412, 615], "nice": false, "zero": false}, "axis": {"orient": "bottom", "values": [-10, -5, 0, 5, 10], "title": null, "offset": -18}}, "x2": {"field": "hi"}}},
    {"transform": [{"filter": "isValid(datum.wt)"}], "mark": {"type": "square", "filled": true, "opacity": 1, "color": "#168a16"}, "encoding": {"x": {"field": "est", "type": "quantitative", "axis": {"orient": "bottom", "values": [-10, -5, 0, 5, 10], "labels": false, "domain": false, "tickSize": -3, "title": null, "offset": -18}}, "size": {"field": "wt", "type": "quantitative", "legend": null, "scale": {"type": "linear", "domain": [0, 100], "range": [0, 170]}}}},
    {"transform": [{"filter": "datum.r == 'Total'"}, {"fold": ["lo","est","hi"], "as": ["dk","dv"]}], "mark": {"type": "trail", "color": "black"}, "encoding": {"x": {"field": "dv", "type": "quantitative", "axis": null}, "size": {"condition": {"test": "datum.dk == 'est'", "value": 10}, "value": 0}}},
    {"data": {"name": "hMDf"}, "transform": [{"filter": "datum.c == 'f'"}], "mark": {"type": "text", "dy": -5.5}, "encoding": {"x": {"datum": 0, "type": "quantitative", "axis": null}, "text": {"field": "t"}}},
    {"data": {"values": [{}]}, "mark": {"type": "text", "text": "Vitamin B", "align": "right", "dx": -10, "dy": 3}, "encoding": {"x": {"datum": 0, "type": "quantitative", "axis": null}, "y": {"datum": "Test", "type": "nominal", "axis": null}}},
    {"data": {"values": [{}]}, "mark": {"type": "text", "text": "Acupuncture alone", "align": "left", "dx": 2, "dy": 3}, "encoding": {"x": {"datum": 0, "type": "quantitative", "axis": null}, "y": {"datum": "Test", "type": "nominal", "axis": null}}}
   ]}
  ]
 },
 {
  "title": {"text": "7. The SCV of median nerve", "offset": -1.5, "anchor": "middle", "frame": "group", "baseline": "bottom"},
  "width": 615, "height": 76,
  "data": {"name": "p7"},
  "encoding": {"y": {"field": "r", "type": "nominal", "axis": null, "scale": {"type": "point", "padding": 0, "range": [0, 66], "domain": ["H1","H2","Lu2016","gap","Total","Het","Test"]}}},
  "resolve": {"scale": {"x": "independent"}, "axis": {"x": "independent"}},
  "layer": [
   {"layer": [
    {"data": {"name": "hMDf"}, "transform": [{"filter": "datum.c != 'f'"}], "mark": {"type": "text", "dy": -5.5}, "encoding": {"x": {"field": "c", "type": "nominal", "axis": null}, "text": {"field": "t"}}},
    {"data": {"values": [{}]}, "mark": {"type": "text", "text": "Study or subgroup", "align": "left", "dy": -11.5}, "encoding": {"x": {"datum": "nm", "type": "nominal", "axis": null}, "y": {"datum": "H2", "type": "nominal", "axis": null}}},
    {"data": {"values": [{}]}, "mark": {"type": "text", "text": "Weight", "dy": -11.5}, "encoding": {"x": {"datum": "w", "type": "nominal", "axis": null}, "y": {"datum": "H2", "type": "nominal", "axis": null}}},
    {"transform": [{"filter": "isValid(datum.wt)"}], "mark": {"type": "text", "align": "left", "dx": 14}, "encoding": {"x": {"datum": "nm", "type": "nominal", "axis": null}, "text": {"field": "r"}}},
    {"transform": [{"filter": "isValid(datum.nm)"}], "mark": {"type": "text", "align": "left"}, "encoding": {"x": {"datum": "nm", "type": "nominal", "axis": null}, "text": {"field": "nm"}}},
    {"transform": [{"fold": ["m1","sd1","n1","m2","sd2","n2","w","ci"], "as": ["k","v"]}, {"filter": "isValid(datum.v)"}], "mark": {"type": "text"}, "encoding": {"x": {"field": "k", "type": "nominal", "axis": null, "scale": {"type": "point", "padding": 0, "range": [0, 375], "domain": ["nm","f1","f2","f3","f4","f5","f6","f7","f8","f9","f10","f11","f12","f13","f14","f15","f16","f17","f18","f19","f20","m1","f22","f23","f24","f25","f26","f27","acu","sd1","f30","f31","f32","f33","f34","f35","f36","n1","f38","f39","f40","f41","m2","f43","f44","f45","f46","f47","vit","sd2","f50","f51","f52","f53","n2","f55","f56","f57","f58","f59","w","f61","f62","f63","f64","f65","f66","f67","f68","f69","f70","f71","f72","f73","f74","ci"]}}, "text": {"field": "v"}}},
    {"data": {"values": [{}]}, "mark": {"type": "rule", "yOffset": 1}, "encoding": {"y": {"datum": "H2", "type": "nominal", "axis": null}}}
   ]},
   {"resolve": {"axis": {"x": "independent"}}, "layer": [
    {"data": {"values": [{}]}, "mark": {"type": "rule", "yOffset": 1, "y2Offset": -16}, "encoding": {"x": {"datum": 0, "type": "quantitative", "axis": null}, "y": {"datum": "H2", "type": "nominal", "axis": null}, "y2": {"datum": "Test"}}},
    {"transform": [{"filter": "isValid(datum.wt)"}], "mark": {"type": "rule"}, "encoding": {"x": {"field": "lo", "type": "quantitative", "scale": {"domain": [-5.5, 6], "range": [415, 615], "nice": false, "zero": false}, "axis": {"orient": "bottom", "values": [-4, -2, 0, 2, 4], "title": null, "offset": -26}}, "x2": {"field": "hi"}}},
    {"transform": [{"filter": "isValid(datum.wt)"}], "mark": {"type": "square", "filled": true, "opacity": 1, "color": "#168a16"}, "encoding": {"x": {"field": "est", "type": "quantitative", "axis": {"orient": "bottom", "values": [-4, -2, 0, 2, 4], "labels": false, "domain": false, "tickSize": -3, "title": null, "offset": -26}}, "size": {"field": "wt", "type": "quantitative", "legend": null, "scale": {"type": "linear", "domain": [0, 100], "range": [0, 170]}}}},
    {"transform": [{"filter": "datum.r == 'Total'"}, {"fold": ["lo","est","hi"], "as": ["dk","dv"]}], "mark": {"type": "trail", "color": "black"}, "encoding": {"x": {"field": "dv", "type": "quantitative", "axis": null}, "size": {"condition": {"test": "datum.dk == 'est'", "value": 10}, "value": 0}}},
    {"data": {"name": "hMDf"}, "transform": [{"filter": "datum.c == 'f'"}], "mark": {"type": "text", "dy": -5.5}, "encoding": {"x": {"datum": 0, "type": "quantitative", "axis": null}, "text": {"field": "t"}}},
    {"data": {"values": [{}]}, "mark": {"type": "text", "text": "Vitamin B", "align": "right", "dx": -10, "dy": 5}, "encoding": {"x": {"datum": 0, "type": "quantitative", "axis": null}, "y": {"datum": "Test", "type": "nominal", "axis": null}}},
    {"data": {"values": [{}]}, "mark": {"type": "text", "text": "Acupuncture alone", "align": "left", "dx": 2, "dy": 5}, "encoding": {"x": {"datum": 0, "type": "quantitative", "axis": null}, "y": {"datum": "Test", "type": "nominal", "axis": null}}}
   ]}
  ]
 },
 {
  "title": {"text": "8. The MCV of ulnar nerve", "offset": 5.5, "anchor": "middle", "frame": "group", "baseline": "bottom"},
  "width": 615, "height": 66,
  "data": {"name": "p8"},
  "encoding": {"y": {"field": "r", "type": "nominal", "axis": null, "scale": {"type": "point", "padding": 0, "range": [0, 66], "domain": ["H1","H2","Song2005","gap","Total","Het","Test"]}}},
  "resolve": {"scale": {"x": "independent"}, "axis": {"x": "independent"}},
  "layer": [
   {"layer": [
    {"data": {"name": "hMDf"}, "transform": [{"filter": "datum.c != 'f'"}], "mark": {"type": "text", "dy": -5.5}, "encoding": {"x": {"field": "c", "type": "nominal", "axis": null}, "text": {"field": "t"}}},
    {"data": {"values": [{}]}, "mark": {"type": "text", "text": "Study or subgroup", "align": "left", "dy": -11.5}, "encoding": {"x": {"datum": "nm", "type": "nominal", "axis": null}, "y": {"datum": "H2", "type": "nominal", "axis": null}}},
    {"data": {"values": [{}]}, "mark": {"type": "text", "text": "Weight", "dy": -11.5}, "encoding": {"x": {"datum": "w", "type": "nominal", "axis": null}, "y": {"datum": "H2", "type": "nominal", "axis": null}}},
    {"transform": [{"filter": "isValid(datum.wt)"}], "mark": {"type": "text", "align": "left", "dx": 14}, "encoding": {"x": {"datum": "nm", "type": "nominal", "axis": null}, "text": {"field": "r"}}},
    {"transform": [{"filter": "isValid(datum.nm)"}], "mark": {"type": "text", "align": "left"}, "encoding": {"x": {"datum": "nm", "type": "nominal", "axis": null}, "text": {"field": "nm"}}},
    {"transform": [{"fold": ["m1","sd1","n1","m2","sd2","n2","w","ci"], "as": ["k","v"]}, {"filter": "isValid(datum.v)"}], "mark": {"type": "text"}, "encoding": {"x": {"field": "k", "type": "nominal", "axis": null, "scale": {"type": "point", "padding": 0, "range": [0, 375], "domain": ["nm","f1","f2","f3","f4","f5","f6","f7","f8","f9","f10","f11","f12","f13","f14","f15","f16","f17","f18","f19","f20","m1","f22","f23","f24","f25","f26","f27","acu","sd1","f30","f31","f32","f33","f34","f35","f36","n1","f38","f39","f40","f41","m2","f43","f44","f45","f46","f47","vit","sd2","f50","f51","f52","f53","n2","f55","f56","f57","f58","f59","w","f61","f62","f63","f64","f65","f66","f67","f68","f69","f70","f71","f72","f73","f74","ci"]}}, "text": {"field": "v"}}},
    {"data": {"values": [{}]}, "mark": {"type": "rule", "yOffset": 1}, "encoding": {"y": {"datum": "H2", "type": "nominal", "axis": null}}}
   ]},
   {"resolve": {"axis": {"x": "independent"}}, "layer": [
    {"data": {"values": [{}]}, "mark": {"type": "rule", "yOffset": 1, "y2Offset": -14}, "encoding": {"x": {"datum": 0, "type": "quantitative", "axis": null}, "y": {"datum": "H2", "type": "nominal", "axis": null}, "y2": {"datum": "Test"}}},
    {"transform": [{"filter": "isValid(datum.wt)"}], "mark": {"type": "rule"}, "encoding": {"x": {"field": "lo", "type": "quantitative", "scale": {"domain": [-24.5, 26], "range": [413, 615], "nice": false, "zero": false}, "axis": {"orient": "bottom", "values": [-20, -10, 0, 10, 20], "title": null, "offset": -14}}, "x2": {"field": "hi"}}},
    {"transform": [{"filter": "isValid(datum.wt)"}], "mark": {"type": "square", "filled": true, "opacity": 1, "color": "#168a16"}, "encoding": {"x": {"field": "est", "type": "quantitative", "axis": {"orient": "bottom", "values": [-20, -10, 0, 10, 20], "labels": false, "domain": false, "tickSize": -3, "title": null, "offset": -14}}, "size": {"field": "wt", "type": "quantitative", "legend": null, "scale": {"type": "linear", "domain": [0, 100], "range": [0, 170]}}}},
    {"transform": [{"filter": "datum.r == 'Total'"}, {"fold": ["lo","est","hi"], "as": ["dk","dv"]}], "mark": {"type": "trail", "color": "black"}, "encoding": {"x": {"field": "dv", "type": "quantitative", "axis": null}, "size": {"condition": {"test": "datum.dk == 'est'", "value": 10}, "value": 0}}},
    {"data": {"name": "hMDf"}, "transform": [{"filter": "datum.c == 'f'"}], "mark": {"type": "text", "dy": -5.5}, "encoding": {"x": {"datum": 0, "type": "quantitative", "axis": null}, "text": {"field": "t"}}},
    {"data": {"values": [{}]}, "mark": {"type": "text", "text": "Vitamin B", "align": "right", "dx": -10, "dy": 7}, "encoding": {"x": {"datum": 0, "type": "quantitative", "axis": null}, "y": {"datum": "Test", "type": "nominal", "axis": null}}},
    {"data": {"values": [{}]}, "mark": {"type": "text", "text": "Acupuncture alone", "align": "left", "dx": 2, "dy": 7}, "encoding": {"x": {"datum": 0, "type": "quantitative", "axis": null}, "y": {"datum": "Test", "type": "nominal", "axis": null}}}
   ]}
  ]
 }
]
}
